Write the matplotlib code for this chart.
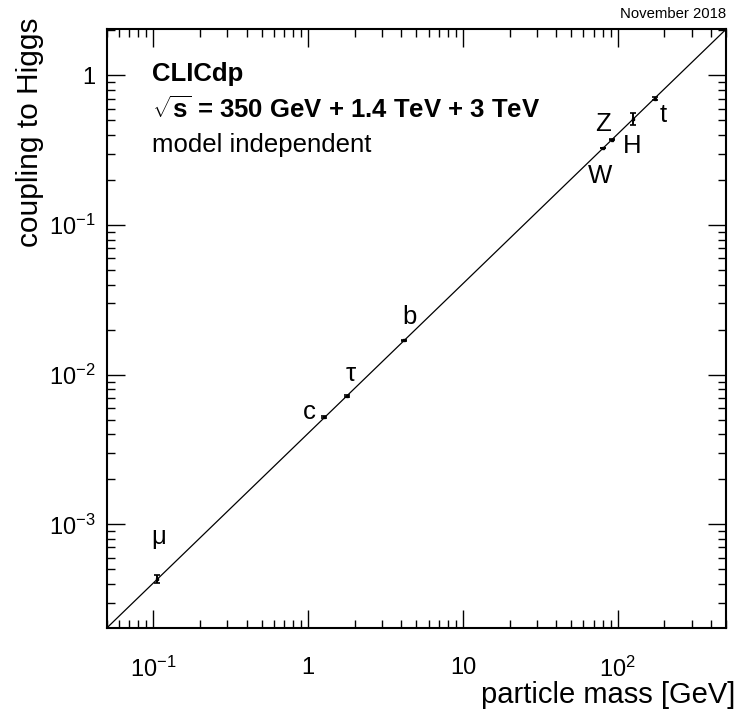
import numpy as np
import matplotlib.pyplot as plt
from matplotlib.ticker import FixedLocator, FixedFormatter, LogLocator, NullFormatter

plt.rcParams['font.family'] = ['Liberation Sans', 'DejaVu Sans']
plt.rcParams['mathtext.fontset'] = 'custom'
plt.rcParams['mathtext.rm'] = 'Liberation Sans'
plt.rcParams['mathtext.it'] = 'Liberation Sans:italic'
plt.rcParams['mathtext.bf'] = 'Liberation Sans:bold'

# particles, masses [GeV] and couplings
names = ["μ", "c", "τ", "b", "W", "Z", "H", "t"]
mass = [0.1057, 1.27, 1.777, 4.18, 80.4, 91.2, 125.0, 173.0]
coupling = [4.3e-4, 5.2e-3, 7.2e-3, 0.017, 0.327, 0.371, 0.508, 0.70]
err_lo = [0.26e-4, 0.1e-3, 0.1e-3, 0.0001, 0.002, 0.002, 0.040, 0.018]
err_hi = [0.26e-4, 0.1e-3, 0.1e-3, 0.0001, 0.002, 0.002, 0.055, 0.018]

# reference line (coupling proportional to mass)
line_x = [0.05, 500]
line_y = [2.03e-4, 2.03]

fig = plt.figure(figsize=(7.37, 7.16), dpi=100)
ax = fig.add_axes([0.145, 0.123, 0.84, 0.836])

ax.plot(line_x, line_y, color="black", lw=0.9)
ax.errorbar(mass, coupling, yerr=[err_lo, err_hi], fmt='s', color="black",
            markersize=2.0, elinewidth=1.4, capsize=2, capthick=1.2)

# label offsets in pixels (left edge / vertical centre relative to the point)
offsets = {"μ": (-6, 42), "c": (-21, 5), "τ": (-1, 22), "b": (-2, 23),
           "W": (-15, -28), "Z": (-16, 16), "H": (-10, -27), "t": (5, -16)}
for n, m, k in zip(names, mass, coupling):
    dx, dy = offsets[n]
    ax.annotate(n, (m, k), xytext=(dx, dy), textcoords="offset pixels",
                fontsize=18.5, ha="left", va="center")

ax.set_xscale("log")
ax.set_yscale("log")
ax.set_xlim(0.05, 500)
ax.set_ylim(2.03e-4, 2.03)

ax.xaxis.set_major_locator(FixedLocator([0.1, 1, 10, 100]))
ax.xaxis.set_major_formatter(FixedFormatter([r"$10^{-1}$", "1", "10", r"$10^{2}$"]))
ax.yaxis.set_major_locator(FixedLocator([1e-3, 1e-2, 1e-1, 1]))
ax.yaxis.set_major_formatter(FixedFormatter([r"$10^{-3}$", r"$10^{-2}$", r"$10^{-1}$", "1"]))
ax.xaxis.set_minor_locator(LogLocator(base=10, subs=np.arange(2, 10), numticks=20))
ax.yaxis.set_minor_locator(LogLocator(base=10, subs=np.arange(2, 10), numticks=20))
ax.xaxis.set_minor_formatter(NullFormatter())
ax.yaxis.set_minor_formatter(NullFormatter())

ax.tick_params(which="both", direction="in", top=True, right=True, labelsize=17)
ax.tick_params(which="major", length=13, width=1)
ax.tick_params(which="minor", length=6, width=1)
ax.tick_params(axis="x", which="major", pad=21)
ax.tick_params(axis="y", which="major", pad=8)
for s in ax.spines.values():
    s.set_linewidth(1.5)

ax.set_xlabel("particle mass [GeV]", fontsize=21, ha="right", va="center")
ax.xaxis.set_label_coords(1.016, -0.112)
ax.set_ylabel("coupling to Higgs", fontsize=21.5, ha="right")
ax.yaxis.set_label_coords(-0.102, 1.02)

ax.text(0.073, 0.925, "CLICdp", transform=ax.transAxes, fontsize=18.5,
        fontweight="bold", va="center")
ax.text(0.073, 0.866, r"$\sqrt{\mathbf{s}}$" + " = 350 GeV + 1.4 TeV + 3 TeV",
        transform=ax.transAxes, fontsize=18.5, fontweight="bold", va="center")
ax.text(0.073, 0.807, "model independent", transform=ax.transAxes,
        fontsize=18.5, va="center")

fig.text(0.985, 0.981, "November 2018", fontsize=10.7, ha="right", va="center")

fig.savefig("out.png", dpi=100)
